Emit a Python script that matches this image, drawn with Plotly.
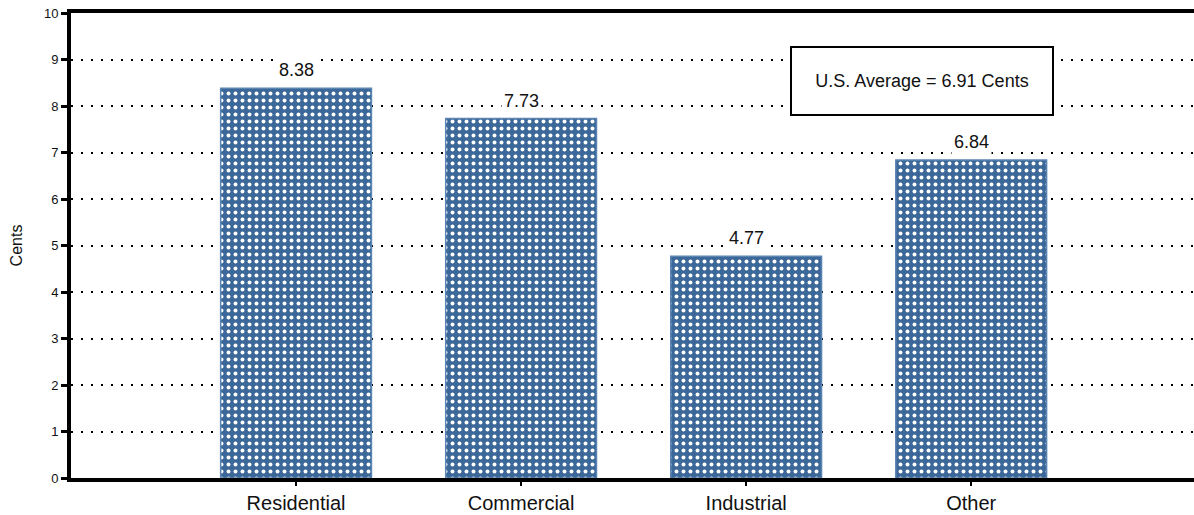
import plotly.graph_objects as go

categories = ["Residential", "Commercial", "Industrial", "Other"]
values = [8.38, 7.73, 4.77, 6.84]
value_labels = ["8.38", "7.73", "4.77", "6.84"]
y_ticks = [0, 1, 2, 3, 4, 5, 6, 7, 8, 9, 10]
avg_text = "U.S. Average = 6.91 Cents"

xpos = list(range(len(categories)))
FONT = "Liberation Sans, Arial"

fig = go.Figure()
fig.add_trace(go.Bar(
    x=xpos, y=values, width=0.67,
    marker=dict(
        color="#3b6898",
        line=dict(color="#5a84b2", width=1.5),
        pattern=dict(shape=".", fgcolor="white", bgcolor="#3b6898", size=7, solidity=0.25, fillmode="replace"),
    ),
    hoverinfo="skip",
))

for xi, v, t in zip(xpos, values, value_labels):
    fig.add_annotation(x=xi, y=v, text=t, showarrow=False, yanchor="bottom", yshift=5,
                       font=dict(size=18, color="#111", family=FONT),
                       bgcolor="white", borderpad=2)

fig.add_annotation(x=2.78, y=8.53, text=avg_text, showarrow=False, xanchor="center", yanchor="middle",
                   font=dict(size=18, color="#111", family=FONT),
                   bgcolor="white", bordercolor="black", borderwidth=2, width=256, height=62, borderpad=2)

fig.update_layout(
    width=1194, height=515,
    margin=dict(l=71, r=0, t=13, b=37),
    plot_bgcolor="white", paper_bgcolor="white",
    showlegend=False,
    font=dict(family=FONT, color="#111"),
    xaxis=dict(
        range=[-1, 3.99], tickvals=xpos, ticktext=categories,
        showline=True, linecolor="black", linewidth=4, mirror=True,
        ticks="outside", ticklen=4, tickwidth=2, tickcolor="black",
        tickfont=dict(size=20), showgrid=False, zeroline=False, fixedrange=True,
    ),
    yaxis=dict(
        range=[0, 10], tickvals=y_ticks,
        showline=True, linecolor="black", linewidth=4,
        ticks="outside", ticklen=6, tickwidth=3, tickcolor="black",
        tickfont=dict(size=13), showgrid=True, gridcolor="black", gridwidth=2,
        griddash="2px,8px", zeroline=False,
        title=dict(text="Cents", font=dict(size=16), standoff=18),
    ),
)

fig.write_html("out.html", config={"displayModeBar": False},
               post_script="document.body.style.margin='0';document.body.style.padding='0';")
